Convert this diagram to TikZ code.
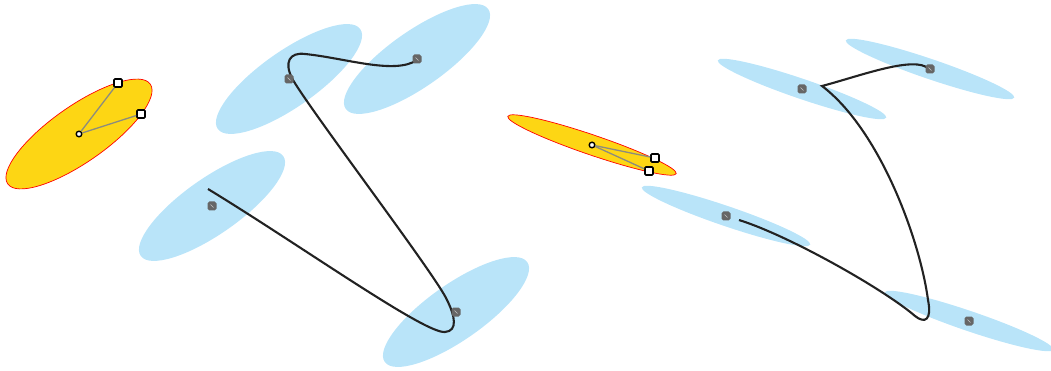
\documentclass[tikz,border=0pt]{standalone}
\usepackage{tikz}
\definecolor{skyfill}{HTML}{B9E4F9}
\definecolor{goldfill}{HTML}{FDD614}
\definecolor{ptgray}{HTML}{666666}
\definecolor{armgray}{HTML}{8C8C7E}
\definecolor{inkline}{HTML}{222222}

\begin{document}
\begin{tikzpicture}[x=1pt, y=-1pt,
  blob/.style={fill=skyfill},
  goldblob/.style={fill=goldfill, draw=red, line width=0.7pt},
  ctrl/.style={rectangle, rounded corners=1.8pt, fill=ptgray, minimum size=9pt, inner sep=0pt,
    path picture={\draw[gray!45, line width=0.5pt]
      ([xshift=-1.5pt,yshift=1.5pt]path picture bounding box.center) --
      ([xshift=1.5pt,yshift=-1.5pt]path picture bounding box.center);}},
  handle/.style={rectangle, rounded corners=1pt, draw=black, fill=white, line width=1.6pt,
                 minimum size=8pt, inner sep=0pt},
  pivot/.style={circle, draw=black, fill=white, line width=1.4pt, minimum size=5.6pt, inner sep=0pt},
  arm/.style={armgray, line width=1.3pt},
  curve/.style={inkline, line width=2.1pt}
]
\useasboundingbox (0,0) rectangle (1051,371);

% ellipse centres
\coordinate (lo) at (79,134);
\coordinate (la) at (212,206);
\coordinate (lb) at (456,312);
\coordinate (lc) at (289,79);
\coordinate (ld) at (417,59);
\coordinate (ro) at (592,145);
\coordinate (ra) at (726,216);
\coordinate (rb) at (969,321);
\coordinate (rc) at (802,89);
\coordinate (rd) at (930,69);

% Left group: wide ellipses
\draw[goldblob, shift={(lo)}, rotate=35] (0,0) ellipse [x radius=87, y radius=28];
\foreach \c in {la,lb,lc,ld}
  \fill[blob, shift={(\c)}, rotate=35] (0,0) ellipse [x radius=87, y radius=28];

% Right group: thin ellipses
\draw[goldblob, shift={(ro)}, rotate=-18.8] (0,0) ellipse [x radius=89, y radius=10];
\foreach \c in {ra,rb,rc,rd}
  \fill[blob, shift={(\c)}, rotate=-18.8] (0,0) ellipse [x radius=89, y radius=10];

% curves
\draw[curve] (208,189) .. controls (300,245) and (425,334) .. (445,332)
  .. controls (458,331) and (455,316) .. (447,300)
  .. controls (437,277) and (313,114) .. (293,80)
  .. controls (283,62) and (290,52) .. (305,54)
  .. controls (345,58) and (395,75) .. (417,60);
\draw[curve] (739,220) .. controls (790,236) and (885,290) .. (915,316)
  .. controls (925,324) and (932,320) .. (928,300)
  .. controls (920,240) and (880,130) .. (822,86)
  .. controls (860,76) and (915,55) .. (929,69);

% control points
\foreach \c in {la,lb,lc,ld,ra,rb,rc,rd}
  \node[ctrl] at (\c) {};

% handles
\node[pivot]  (lpv) at (lo) {};
\node[handle] (lh1) at (118,83) {};
\node[handle] (lh2) at (141,114) {};
\draw[arm] (lpv) -- (lh1);
\draw[arm] (lpv) -- (lh2);

\node[pivot]  (rpv) at (ro) {};
\node[handle] (rh1) at (655,158) {};
\node[handle] (rh2) at (649,171) {};
\draw[arm] (rpv) -- (rh1);
\draw[arm] (rpv) -- (rh2);
\end{tikzpicture}
\end{document}
